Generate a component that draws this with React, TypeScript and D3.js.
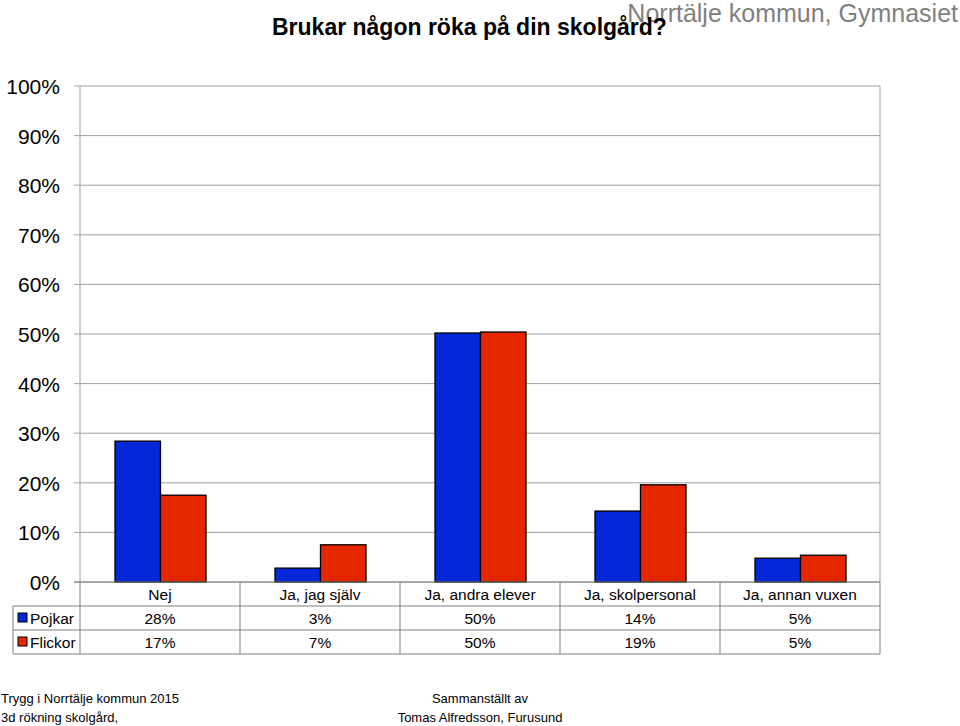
import React from "react";
import * as d3 from "d3";

const categories = ["Nej", "Ja, jag själv", "Ja, andra elever", "Ja, skolpersonal", "Ja, annan vuxen"];
const seriesNames = ["Pojkar", "Flickor"];
const pojkar = [28.4, 2.8, 50.2, 14.3, 4.8];
const flickor = [17.5, 7.5, 50.4, 19.6, 5.4];
const pojkarLabels = ["28%", "3%", "50%", "14%", "5%"];
const flickorLabels = ["17%", "7%", "50%", "19%", "5%"];
const yTicks = [0, 10, 20, 30, 40, 50, 60, 70, 80, 90, 100];
const colors = ["#0427d8", "#e42700"];

const W = 960, H = 726;
const left = 80, right = 880, top = 86, bottom = 582;
const FONT = "'Liberation Sans', Arial, sans-serif";

export default function App() {
  const x = d3.scaleBand<string>().domain(categories).range([left, right]).paddingInner(0).paddingOuter(0);
  const y = d3.scaleLinear().domain([0, 100]).range([bottom, top]);
  const xs = d3.scaleBand<string>().domain(seriesNames).range([35, 126]);
  const data = [pojkar, flickor];
  const labels = [pojkarLabels, flickorLabels];
  const rowY = [606, 630, 654];

  return (
    <svg width={W} height={H} style={{ position: "absolute", left: 0, top: 0, background: "#fff" }} fontFamily={FONT}>
      <rect x={0} y={0} width={W} height={H} fill="#fff" />
      {/* titles */}
      <text x={958} y={22} textAnchor="end" fontSize={25} fill="#808080">Norrtälje kommun, Gymnasiet</text>
      <text x={272} y={35} fontSize={23} fontWeight="bold" fill="#000">Brukar någon röka på din skolgård?</text>

      {/* grid */}
      {yTicks.map((t) => (
        <g key={t}>
          <line x1={74} x2={right} y1={y(t)} y2={y(t)} stroke="#a0a0a0" strokeWidth={1} />
          <text x={60} y={y(t) + 8} textAnchor="end" fontSize={21} fill="#000">{t}%</text>
        </g>
      ))}
      <line x1={left} x2={left} y1={top} y2={bottom} stroke="#a0a0a0" />
      <line x1={right} x2={right} y1={top} y2={bottom} stroke="#a0a0a0" />

      {/* bars */}
      {categories.map((c, i) => (
        <g key={c}>
          {seriesNames.map((s, j) => (
            <rect key={s} x={(x(c) as number) + (xs(s) as number)} width={xs.bandwidth()} y={y(data[j][i])}
              height={bottom - y(data[j][i])} fill={colors[j]} stroke="#000" strokeWidth={1.3} />
          ))}
        </g>
      ))}
      <line x1={74} x2={right} y1={bottom} y2={bottom} stroke="#808080" strokeWidth={1} />

      {/* table */}
      {categories.map((c, i) => (
        <line key={"v" + i} x1={x(c)} x2={x(c)} y1={bottom} y2={654} stroke="#808080" />
      ))}
      <line x1={right} x2={right} y1={bottom} y2={654} stroke="#808080" />
      <line x1={13} x2={13} y1={606} y2={654} stroke="#808080" />
      {rowY.map((ry) => (
        <line key={ry} x1={13} x2={right} y1={ry} y2={ry} stroke="#808080" />
      ))}
      {categories.map((c) => (
        <text key={"c" + c} x={(x(c) as number) + x.bandwidth() / 2} y={600} textAnchor="middle" fontSize={15.5}>{c}</text>
      ))}
      {seriesNames.map((s, j) => (
        <g key={"r" + s}>
          <rect x={18} y={rowY[j] + 7} width={9} height={9} fill={colors[j]} stroke="#000" strokeWidth={1} />
          <text x={30} y={rowY[j] + 18} fontSize={15.5}>{s}</text>
          {categories.map((c, i) => (
            <text key={c} x={(x(c) as number) + x.bandwidth() / 2} y={rowY[j] + 18} textAnchor="middle" fontSize={15.5}>{labels[j][i]}</text>
          ))}
        </g>
      ))}

      {/* footer */}
      <text x={1} y={703} fontSize={13}>Trygg i Norrtälje kommun 2015</text>
      <text x={1} y={722} fontSize={13}>3d rökning skolgård,</text>
      <text x={480} y={703} textAnchor="middle" fontSize={13}>Sammanställt av</text>
      <text x={480} y={722} textAnchor="middle" fontSize={13}>Tomas Alfredsson, Furusund</text>
    </svg>
  );
}
